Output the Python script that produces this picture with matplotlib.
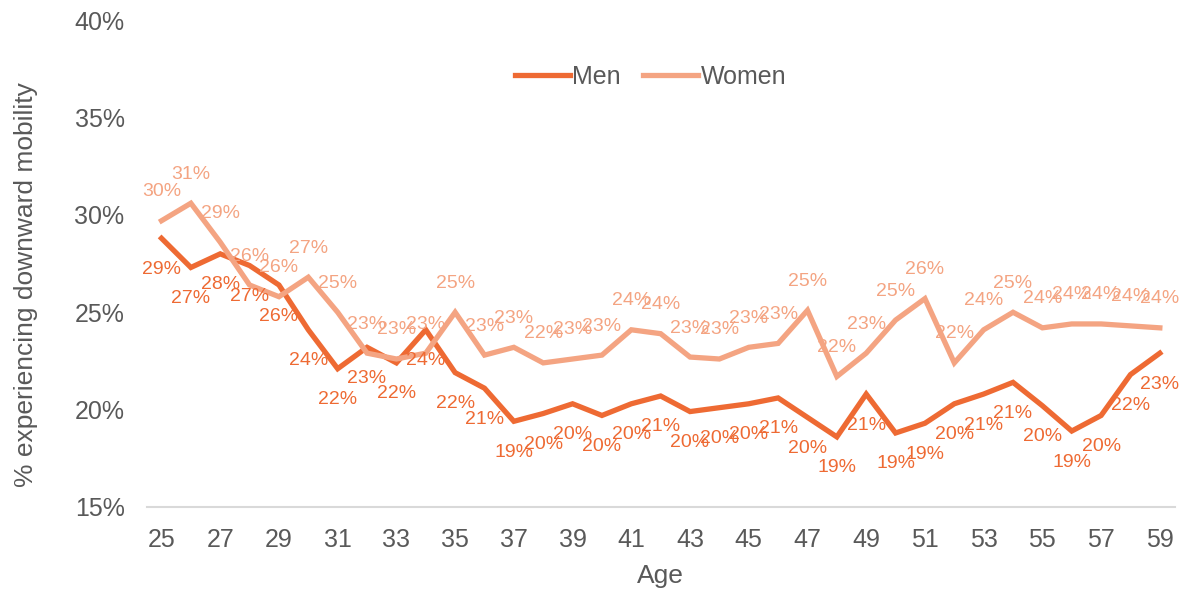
import numpy as np
import matplotlib
matplotlib.use("Agg")
import matplotlib.pyplot as plt
from matplotlib.ticker import FuncFormatter

plt.rcParams['font.family'] = ['Liberation Sans', 'DejaVu Sans']

## data
ages = list(range(25, 60))
men = [28.8, 27.3, 28.0, 27.4, 26.4, 24.1, 22.1, 23.2, 22.4, 24.1,
       21.9, 21.1, 19.4, 19.8, 20.3, 19.7, 20.3, 20.7, 19.9, 20.1,
       20.3, 20.6, 19.6, 18.6, 20.8, 18.8, 19.3, 20.3, 20.8, 21.4,
       20.2, 18.9, 19.7, 21.8, 22.9]
women = [29.7, 30.6, 28.6, 26.4, 25.8, 26.8, 25.0, 22.9, 22.6, 22.9,
         25.0, 22.8, 23.2, 22.4, 22.6, 22.8, 24.1, 23.9, 22.7, 22.6,
         23.2, 23.4, 25.1, 21.7, 22.9, 24.6, 25.7, 22.4, 24.1, 25.0,
         24.2, 24.4, 24.4, 24.3, 24.2]

men_col = "#EE6A33"
women_col = "#F4A482"
txt_col = "#595959"

fig = plt.figure(figsize=(11.84, 5.94), dpi=100)
ax = fig.add_axes([0.124, 0.1465, 0.868, 0.8195])

ax.plot(ages, men, color=men_col, lw=3.8, label="Men", solid_joinstyle='miter')
ax.plot(ages, women, color=women_col, lw=3.8, label="Women", solid_joinstyle='miter')

# data labels: women above, men below
for a, v in zip(ages, women):
    ax.annotate(f"{v:.0f}%", (a, v), xytext=(0, 29), textcoords='offset pixels',
                ha='center', va='center', fontsize=14, color=women_col)
for a, v in zip(ages, men):
    ax.annotate(f"{v:.0f}%", (a, v), xytext=(0, -31), textcoords='offset pixels',
                ha='center', va='center', fontsize=14, color=men_col)

ax.set_xlim(24.5, 59.5)
ax.set_ylim(15, 40)
ax.set_xticks(ages[::2])
ax.set_yticks(np.arange(15, 41, 5))
ax.yaxis.set_major_formatter(FuncFormatter(lambda v, p: f"{v:.0f}%"))
ax.tick_params(length=0, labelsize=18, colors=txt_col)
ax.tick_params(axis='x', pad=15)
ax.tick_params(axis='y', pad=16)

for s in ['top', 'right', 'left']:
    ax.spines[s].set_visible(False)
ax.spines['bottom'].set_color("#D9D9D9")
ax.spines['bottom'].set_linewidth(1.5)

ax.set_xlabel("Age", fontsize=19, color=txt_col, labelpad=9)
ax.set_ylabel("% experiencing downward mobility", fontsize=19, color=txt_col)
ax.yaxis.set_label_coords(-0.106, 0.456)

ax.legend(loc='center', bbox_to_anchor=(0.49, 0.883), ncol=2, frameon=False,
          fontsize=18, labelcolor=txt_col, handlelength=2.2, handletextpad=0.1,
          columnspacing=0.9)

fig.savefig("out.png", dpi=100)
